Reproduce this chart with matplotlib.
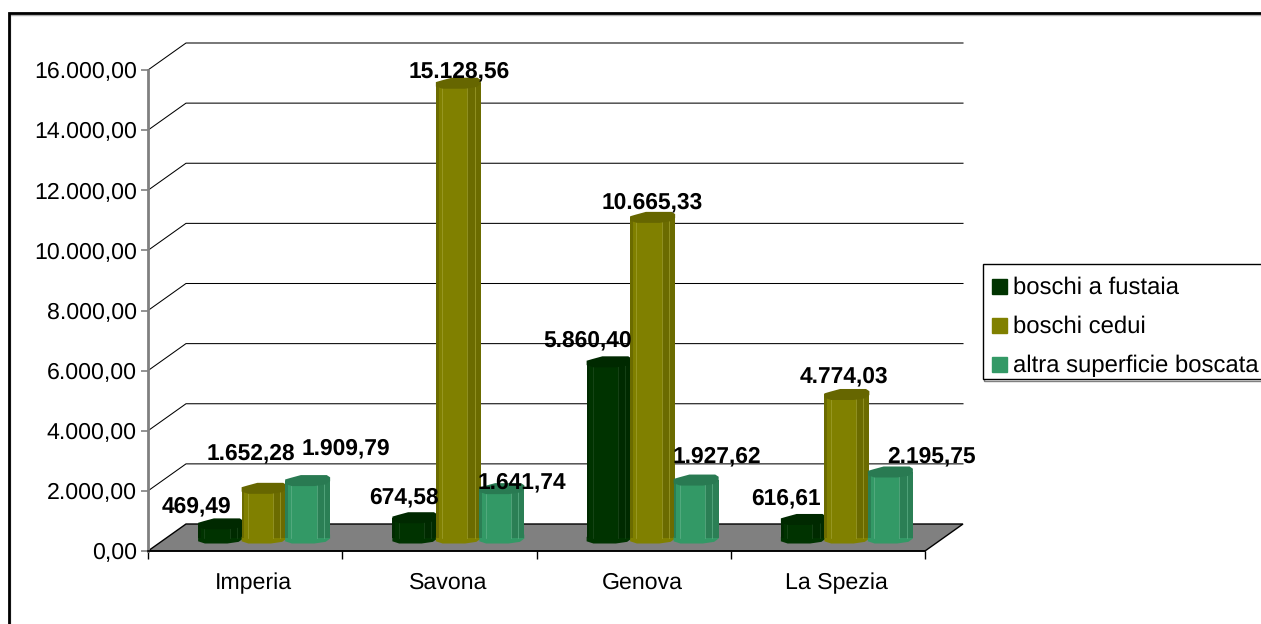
import numpy as np
import matplotlib
matplotlib.use("Agg")
import matplotlib.pyplot as plt
from matplotlib.patches import Polygon, Rectangle
from matplotlib.lines import Line2D

plt.rcParams['font.family'] = ['Liberation Sans', 'DejaVu Sans']
plt.rcParams['text.hinting'] = 'none'

# values
provinces = ["Imperia", "Savona", "Genova", "La Spezia"]
series_names = ["boschi a fustaia", "boschi cedui", "altra superficie boscata"]
fustaia = [469.49, 674.58, 5860.40, 616.61]
cedui = [1652.28, 15128.56, 10665.33, 4774.03]
altra = [1909.79, 1641.74, 1927.62, 2195.75]
y_ticks = [0, 2000, 4000, 6000, 8000, 10000, 12000, 14000, 16000]

W, H = 1261, 624
colors = ["#003300", "#808000", "#339966"]
dark_colors = ["#002a00", "#6b6b00", "#2b7f55"]
cap_colors = ["#002900", "#666600", "#297a52"]
line_colors = ["#1f4a1f", "#a0a030", "#5fb088"]

# label offsets from the top of each bar, in pixels
label_dx = [[-24, -13, 38], [-11, 1, 20], [-22, 0, 21], [-17, -3, 41]]
label_dy = [[17, 35, 32], [20, 12, 6], [21, 15, 24], [21, 18, 16]]

# faceted outline of the bar ends, unit coordinates
cap_x = np.array([-1, -0.75, -0.3, 0.85, 1, 1, 0.8, 0.3, -0.7, -1])
cap_y = np.array([0.2, 0.5, 1, 1, 0.6, -0.1, -0.7, -1, -1, -0.6])


def fmt_it(v):
    return f"{v:,.2f}".replace(",", "#").replace(".", ",").replace("#", ".")


fig = plt.figure(figsize=(W / 100, H / 100), dpi=100)
ax = fig.add_axes([148 / W, (H - 551) / H, (925 - 148) / W, (551 - 70) / H])
ax.set_xlim(0, 4)
ax.set_ylim(0, 16000)

# size of one pixel in data units, used for the 3d depth
px_x = 4 / (925 - 148)
px_y = 16000 / (551 - 70)
depth_x = 38 * px_x
depth_y = 27 * px_y

# floor and back wall
floor = Polygon([(0, 0), (4, 0), (4 + depth_x, depth_y), (depth_x, depth_y)],
                closed=True, facecolor="#808080", edgecolor="black", lw=1,
                clip_on=False, zorder=2)
ax.add_patch(floor)
for t in y_ticks[1:]:
    ax.plot([0, depth_x, 4 + depth_x], [t, t + depth_y, t + depth_y],
            color="black", lw=0.75, clip_on=False, zorder=1)

# bars
bar_w = 45 * px_x
step = 43.5 * px_x
base = 13 * px_y
cap_h = 11 * px_y
all_series = [fustaia, cedui, altra]
for i in range(len(provinces)):
    center = i + 0.5 + 19 * px_x
    for j, vals in enumerate(all_series):
        v = vals[i]
        x = center + (j - 1) * step
        left = x - bar_w / 2
        z = 3 + i + j * 0.1
        foot = np.column_stack([x + bar_w / 2 * cap_x, base + cap_h / 2 * cap_y])
        ax.add_patch(Polygon(foot, closed=True, facecolor=colors[j],
                             edgecolor="none", zorder=z, clip_on=False))
        ax.bar(x, v, bar_w, bottom=base, color=colors[j], zorder=z, clip_on=False)
        ax.bar(left + bar_w * 0.85, v, bar_w * 0.30, bottom=base, color=dark_colors[j],
               zorder=z, clip_on=False)
        ax.bar(left + bar_w * 0.03, v, bar_w * 0.06, bottom=base, color=dark_colors[j],
               zorder=z, clip_on=False)
        for frac in [0.14, 0.7, 0.86]:
            ax.plot([left + bar_w * frac] * 2, [base, base + v], color=line_colors[j],
                    lw=0.5, zorder=z, clip_on=False)
        cap = np.column_stack([x + bar_w / 2 * cap_x, base + v + cap_h / 2 * cap_y])
        ax.add_patch(Polygon(cap, closed=True, facecolor=cap_colors[j],
                             edgecolor="none", zorder=z, clip_on=False))
        ax.annotate(fmt_it(v), (x, base + v), xytext=(label_dx[i][j] * 0.72, label_dy[i][j] * 0.72),
                    textcoords="offset points", ha="center", va="center",
                    fontsize=16.4, fontweight="bold", color="black", zorder=20,
                    annotation_clip=False)

# axes
for side in ["top", "right"]:
    ax.spines[side].set_visible(False)
ax.spines["left"].set_color("#808080")
ax.spines["left"].set_linewidth(2)
ax.spines["bottom"].set_color("black")
ax.spines["bottom"].set_linewidth(1.2)
ax.patch.set_visible(False)
ax.set_yticks(y_ticks)
ax.set_yticklabels([fmt_it(t) for t in y_ticks], fontsize=16.7)
ax.tick_params(axis="y", length=5, width=1.2, color="#808080", pad=3)
ax.set_xticks(range(5))
ax.set_xticklabels([])
ax.tick_params(axis="x", length=6, width=1, color="black")
for i, name in enumerate(provinces):
    ax.annotate(name, (i + 0.5, 0), xytext=(6, -23), textcoords="offset points",
                ha="center", va="center", fontsize=16.7)

# outer border, runs off the right and bottom of the picture
fig.add_artist(Rectangle((9.5 / W, -0.02), 1.1, (H - 15) / H + 0.02, transform=fig.transFigure,
                         fill=False, edgecolor="#b0b0b0", lw=1))
fig.add_artist(Rectangle((8.5 / W, -0.02), 1.1, (H - 13) / H + 0.02, transform=fig.transFigure,
                         fill=False, edgecolor="black", lw=2))

# legend box drawn by hand, the matplotlib frame comes out too tall
fig.add_artist(Rectangle((984 / W, (H - 380.5) / H), 300 / W, 115 / H, transform=fig.transFigure,
                         facecolor="none", edgecolor="#808080", lw=1))
fig.add_artist(Rectangle((983 / W, (H - 379) / H), 300 / W, 115 / H, transform=fig.transFigure,
                         facecolor="white", edgecolor="black", lw=1))
handles = [Line2D([], [], ls="none", marker="s", ms=10.8, color=c) for c in colors]
leg = fig.legend(handles, series_names, loc="upper left",
                 bbox_to_anchor=(983 / W, (H - 264) / H), borderaxespad=0,
                 fontsize=17.2, frameon=False, handletextpad=0.4, handlelength=0.33,
                 labelspacing=0.7, borderpad=0.525)

fig.savefig("out.png", dpi=100)
